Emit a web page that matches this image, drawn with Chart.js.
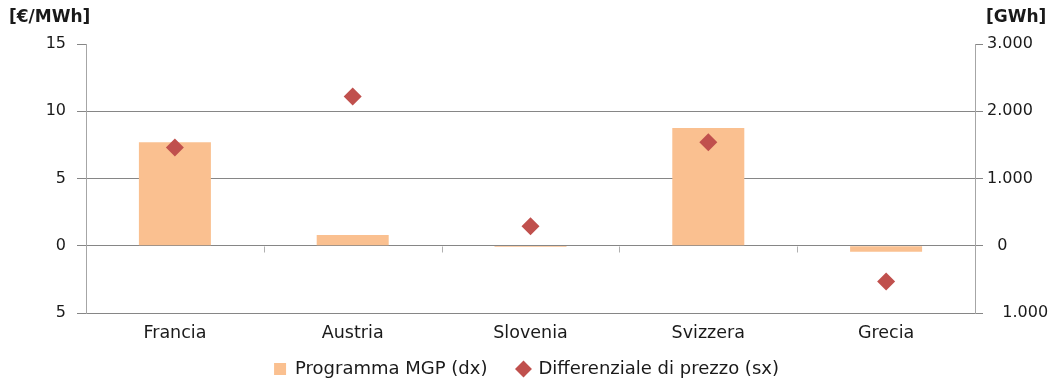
<!DOCTYPE html>
<html>
<head>
<meta charset="utf-8">
<script src="https://cdn.jsdelivr.net/npm/chart.js@4"></script>
<style>
html,body{margin:0;padding:0;background:#fff;}
#wrap{position:relative;width:1053px;height:379px;}
</style>
</head>
<body>
<div id="wrap"><canvas id="c" width="1053" height="379"></canvas></div>
<script>
const categories = ['Francia', 'Austria', 'Slovenia', 'Svizzera', 'Grecia'];
const programmaMGP = [1540, 160, -20, 1750, -90];
const differenziale = [7.3, 11.1, 1.45, 7.7, -2.65];
const leftTicks = [-5, 0, 5, 10, 15];
const leftTickLabels = ['5', '0', '5', '10', '15'];
const rightTicks = [-1000, 0, 1000, 2000, 3000];
const rightTickLabels = ['   1.000', '  0', '1.000', '2.000', '3.000'];
const leftTitle = '[€/MWh]';
const rightTitle = '[GWh]';

const FONT = 'DejaVu Sans';
const GRID = '#868686';
const TXT = '#1a1a1a';

const extras = {
  id: 'extras',
  afterDraw(chart) {
    const ctx = chart.ctx;
    const y = chart.scales.y;
    const x = chart.scales.x;
    const y0 = Math.round(y.getPixelForValue(0)) + 0.5;
    ctx.save();
    ctx.strokeStyle = '#b0b0b0';
    ctx.lineWidth = 1;
    const n = categories.length;
    for (let i = 1; i < n; i++) {
      const px = Math.round((x.getPixelForValue(i - 1) + x.getPixelForValue(i)) / 2) + 0.5;
      ctx.beginPath();
      ctx.moveTo(px, y0);
      ctx.lineTo(px, y0 + 6);
      ctx.stroke();
    }
    ctx.fillStyle = TXT;
    ctx.font = 'bold 17px "' + FONT + '"';
    ctx.textBaseline = 'middle';
    ctx.textAlign = 'left';
    ctx.fillText(leftTitle, 9, 18);
    ctx.fillText(rightTitle, 986, 18);
    ctx.restore();
  }
};

new Chart(document.getElementById('c'), {
  type: 'bar',
  data: {
    labels: categories,
    datasets: [
      {
        type: 'line',
        label: 'Differenziale di prezzo (sx)',
        data: differenziale,
        yAxisID: 'y',
        showLine: false,
        pointStyle: 'rectRot',
        pointRadius: 9,
        pointHoverRadius: 9,
        pointBackgroundColor: '#C0504D',
        backgroundColor: '#C0504D',
        borderColor: '#C0504D',
        pointBorderWidth: 0,
        borderWidth: 0
      },
      {
        type: 'bar',
        label: 'Programma MGP (dx)',
        data: programmaMGP,
        yAxisID: 'y1',
        backgroundColor: '#FAC090',
        borderWidth: 0,
        pointStyle: 'rect',
        categoryPercentage: 1,
        barPercentage: 0.405
      }
    ]
  },
  options: {
    responsive: false,
    animation: false,
    events: [],
    layout: { padding: { left: 0, right: 0, top: 44, bottom: -9 } },
    plugins: {
      tooltip: { enabled: false },
      legend: {
        position: 'bottom',
        reverse: true,
        labels: {
          usePointStyle: true,
          boxWidth: 12,
          boxHeight: 12,
          padding: 3,
          color: TXT,
          font: { family: FONT, size: 18 },
          generateLabels(chart) {
            const items = Chart.defaults.plugins.legend.labels.generateLabels(chart);
            items.forEach(it => { if (it.datasetIndex === 1) it.text = it.text + '\u2003\u2002'; });
            return items;
          }
        }
      }
    },
    scales: {
      x: {
        grid: { display: false, drawTicks: false },
        border: { display: false },
        ticks: { color: TXT, padding: 10, font: { family: FONT, size: 17.5 }, maxRotation: 0 },
        afterFit(s) { s.height = 44; }
      },
      y: {
        position: 'left',
        min: -5, max: 15,
        afterBuildTicks(s) { s.ticks = leftTicks.map(v => ({ value: v })); },
        ticks: {
          color: TXT,
          padding: 11,
          font: { family: FONT, size: 16 },
          callback: (v) => leftTickLabels[leftTicks.indexOf(v)]
        },
        grid: {
          color: (c) => (c.tick && c.tick.value === 15) ? 'rgba(0,0,0,0)' : GRID,
          tickColor: GRID,
          tickLength: 9,
          lineWidth: 1
        },
        border: { display: true, color: '#a6a6a6', width: 1 },
        afterFit(s) { s.width = 86; }
      },
      y1: {
        position: 'right',
        min: -1000, max: 3000,
        afterBuildTicks(s) { s.ticks = rightTicks.map(v => ({ value: v })); },
        ticks: {
          color: TXT,
          padding: 4,
          font: { family: FONT, size: 16 },
          callback: (v) => rightTickLabels[rightTicks.indexOf(v)]
        },
        grid: { drawOnChartArea: false, tickColor: GRID, tickLength: 8 },
        border: { display: true, color: '#a6a6a6', width: 1 },
        afterFit(s) { s.width = 78; }
      }
    }
  },
  plugins: [extras]
});
</script>
</body>
</html>
